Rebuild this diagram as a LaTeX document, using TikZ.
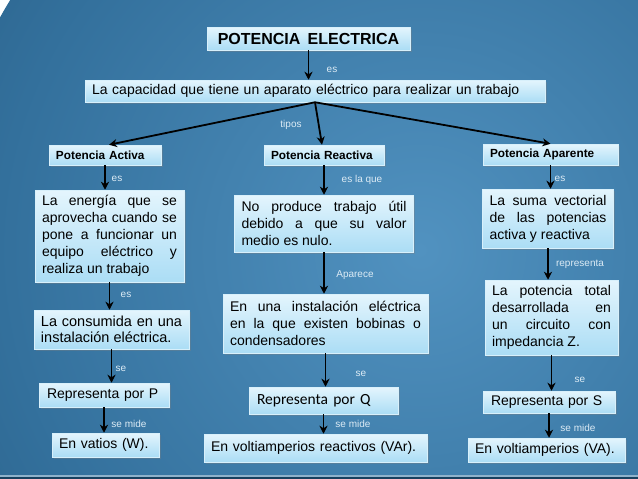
\documentclass[tikz,border=0pt]{standalone}
\usepackage{fontspec}
\setmainfont{Liberation Sans}
\newfontfamily\calib{Carlito}
\usetikzlibrary{arrows.meta,shadows}
\definecolor{bgdark}{HTML}{17405E}
\definecolor{bgmid}{HTML}{33709C}
\definecolor{bglight}{HTML}{5192C0}
\definecolor{boxtop}{HTML}{E4F5FD}
\definecolor{boxbot}{HTML}{ABDDF5}
\definecolor{boxline}{HTML}{D8F0FB}
\definecolor{lblcol}{HTML}{DCEBF5}
\definecolor{bottomline}{HTML}{8FB2CB}
\pgfdeclareradialshading{bgshade}{\pgfpointorigin}{color(0bp)=(bglight); color(22bp)=(bgmid); color(50bp)=(bgdark)}
\hyphenpenalty=10000
\exhyphenpenalty=10000
\tikzset{
  cbox/.style={draw=boxline, line width=0.5pt, top color=boxtop, bottom color=boxbot,
    drop shadow={shadow xshift=1.5pt, shadow yshift=-2pt, opacity=0.35},
    inner ysep=0pt, inner xsep=7pt, text=black, align=left},
  jbox/.style={cbox, align=justify, font=\fontsize{14}{17}\selectfont},
  sbox/.style={cbox, font=\fontsize{14}{17}\selectfont},
  tbox/.style={cbox, font=\bfseries\fontsize{11.8}{14}\selectfont, inner xsep=7pt},
  lbl/.style={text=lblcol, font=\fontsize{10}{12}\selectfont, inner sep=0pt},
  arr/.style={-{Stealth[length=8pt,width=8pt,inset=2.5pt]}, line width=1.8pt, black},
}
\begin{document}
\begin{tikzpicture}[x=1pt,y=-1pt]
\useasboundingbox (0,0) rectangle (638,479);
\begin{scope}
\clip (0,0) rectangle (638,479);
\shade[shading=bgshade] (420,250) circle (480pt);
\fill[bgdark] (0,477) rectangle (638,479);
\draw[bottomline, line width=1.2pt] (0,476) -- (638,476);
\end{scope}

% title and definition
\node[cbox, text width=187pt, minimum height=23pt, font=\bfseries\fontsize{16}{19}\selectfont, inner xsep=8pt, align=center] (title) at (308.5,38.5) {POTENCIA\hspace{0.45em}ELECTRICA};
\node[sbox, text width=446pt, minimum height=22pt] (def) at (315,91) {La capacidad que tiene un aparato eléctrico para realizar un trabajo};

% types
\node[tbox, text width=98pt, minimum height=20pt] (A) at (105,155) {Potencia Activa};
\node[tbox, text width=106pt, minimum height=20pt] (R) at (324,155) {Potencia Reactiva};
\node[tbox, text width=121pt, minimum height=21pt] (P) at (550.5,154.5) {Potencia Aparente};

% Activa column
\node[jbox, text width=135pt, minimum height=92pt] (A1) at (109.5,236) {La energía que se\linebreak aprovecha cuando se\linebreak pone a funcionar un\linebreak equipo eléctrico y\linebreak realiza un trabajo};
\node[jbox, text width=141pt, minimum height=39pt, font=\fontsize{14.5}{16.5}\selectfont] (A2) at (111.5,329.5) {La consumida en una\linebreak instalación eléctrica.};
\node[sbox, text width=114pt, minimum height=24pt, inner xsep=8pt] (A3) at (104,395) {Representa por P};
\node[sbox, text width=93pt, minimum height=24pt] (A4) at (105.5,445) {En vatios (W).};

% Reactiva column
\node[jbox, text width=165pt, minimum height=57pt] (R1) at (324,223.5) {No produce trabajo útil\linebreak debido a que su valor\linebreak medio es nulo.};
\node[jbox, text width=191pt, minimum height=59pt] (R2) at (325.5,323.5) {En una instalación eléctrica\linebreak en la que existen bobinas o\linebreak condensadores};
\node[cbox, text width=133pt, minimum height=27pt, inner xsep=8pt, font=\calib\fontsize{15.5}{18}\selectfont] (R3) at (323.5,400.5) {Representa por Q};
\node[sbox, text width=209pt, minimum height=28pt] (R4) at (315.5,448) {En voltiamperios reactivos (VAr).};

% Aparente column
\node[jbox, text width=117pt, minimum height=59pt] (P1) at (548,218.5) {La suma vectorial\linebreak de las potencias\linebreak activa y reactiva};
\node[jbox, text width=119pt, minimum height=75pt] (P2) at (551.5,317.5) {La potencia total\linebreak desarrollada en\linebreak un circuito con\linebreak impedancia Z.};
\node[sbox, text width=116pt, minimum height=22pt, inner xsep=8pt] (P3) at (549,402) {Representa por S};
\node[sbox, text width=143pt, minimum height=24pt] (P4) at (546.5,450) {En voltiamperios (VA).};

% connectors
\draw[arr] (title.south) -- (title.south |- def.north);
\draw[arr] (def.south) -- ([xshift=4pt]A.north);
\draw[arr] (def.south) -- ([xshift=-2pt]R.north);
\draw[arr] (def.south) -- (P.north);

\draw[arr] (A.south) -- (A.south |- A1.north);
\draw[arr] (A1.south) -- (A1.south |- A2.north);
\draw[arr] (A2.south) -- (A2.south |- A3.north);
\draw[arr] (A3.south) -- (A3.south |- A4.north);

\draw[arr] (R.south) -- (R.south |- R1.north);
\draw[arr] (R1.south) -- (R1.south |- R2.north);
\draw[arr] (R2.south) -- (R2.south |- R3.north);
\draw[arr] (R3.south) -- (R3.south |- R4.north);

\draw[arr] (P.south) -- (P.south |- P1.north);
\draw[arr] (P1.south) -- (P1.south |- P2.north);
\draw[arr] (P2.south) -- (P2.south |- P3.north);
\draw[arr] (P3.south) -- (P3.south |- P4.north);

% labels
\node[lbl] (l1) at (332,70) {es};
\node[lbl] (l2) at (291,125) {tipos};
\node[lbl] (l3) at (117,179) {es};
\node[lbl] (l4) at (126,295) {es};
\node[lbl] (l5) at (121,369) {se};
\node[lbl] (l6) at (129,424) {se mide};
\node[lbl] (l7) at (362,180) {es la que};
\node[lbl] (l8) at (355,275) {Aparece};
\node[lbl] (l9) at (361,374) {se};
\node[lbl] (l10) at (353,424) {se mide};
\node[lbl] (l11) at (560,179) {es};
\node[lbl] (l12) at (580,264) {representa};
\node[lbl] (l13) at (580,380) {se};
\node[lbl] (l14) at (578,428) {se mide};
\end{tikzpicture}
\end{document}
